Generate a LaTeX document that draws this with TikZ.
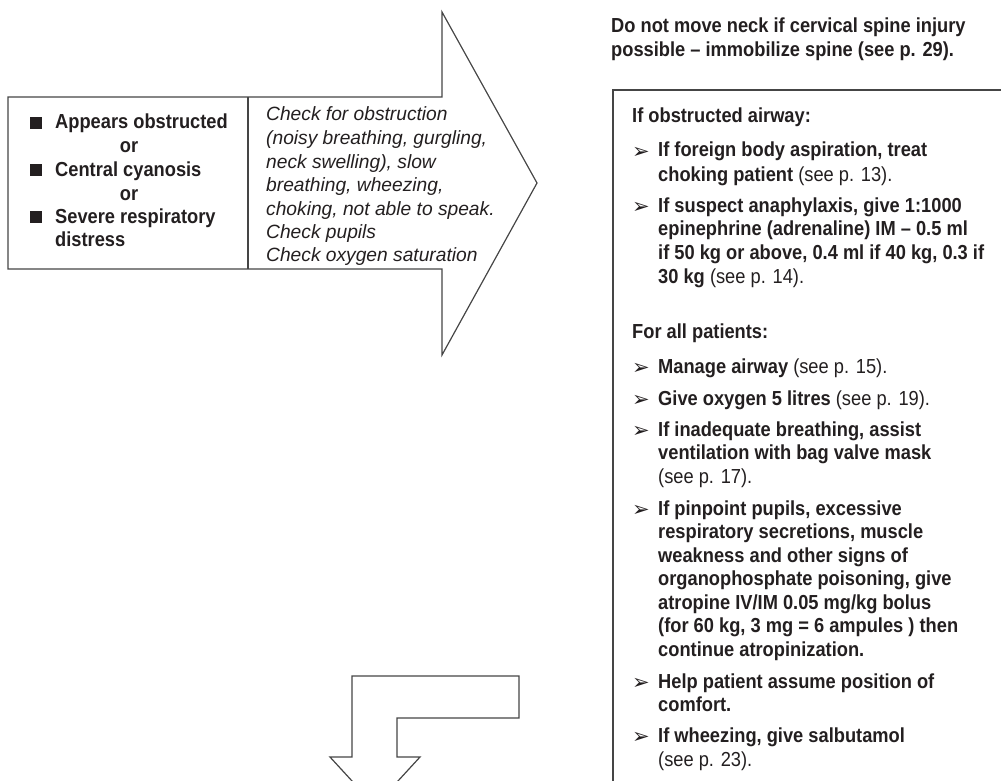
\documentclass[tikz,border=0pt]{standalone}
\usepackage{fontspec}
\setmainfont{Liberation Sans}
\newfontfamily\cond{Liberation Sans}[FakeStretch=0.9, Ligatures=TeX]
\newfontfamily\djv{DejaVu Sans}
\definecolor{ink}{HTML}{231F20}
\definecolor{edge}{HTML}{454545}
\tikzset{
  outline/.style={draw=edge, line width=1.2pt, line join=miter},
  bt/.style={anchor=base west, inner sep=0pt, text=ink, font=\cond\fontsize{20.3}{22}\selectfont\bfseries},
  it/.style={anchor=base west, inner sep=0pt, text=ink, font=\fontsize{19.2}{22}\selectfont\itshape},
  orlbl/.style={anchor=base, inner sep=0pt, text=ink, font=\cond\fontsize{20.3}{22}\selectfont\bfseries},
  sq/.style={fill=ink, draw=none, minimum width=12.5pt, minimum height=12pt, inner sep=0pt, anchor=south west},
  arr/.style={anchor=base west, inner sep=0pt, text=ink, font=\djv\fontsize{21}{22}\selectfont},
}
\newcommand{\rg}[1]{{\mdseries #1}}
\begin{document}
\begin{tikzpicture}[x=1pt, y=-1pt]
\useasboundingbox (0,0) rectangle (1001,781);
\clip (0,0) rectangle (1001,781);

% big right arrow with left box
\draw[outline] (8,97) -- (442,97) -- (442,12) -- (537,183) -- (442,355) -- (442,269) -- (8,269) -- cycle;
\draw[outline] (248,97) -- (248,269);

% left box text
\node[sq] (s1) at (29.5,129) {};
\node[bt] (a1) at (55,129) {Appears obstructed};
\node[orlbl] (o1) at (129,153) {or};
\node[sq] (s2) at (29.5,176) {};
\node[bt] (a2) at (55,176) {Central cyanosis};
\node[orlbl] (o2) at (129,200) {or};
\node[sq] (s3) at (29.5,223) {};
\node[bt] (a3) at (55,223) {Severe respiratory};
\node[bt] (a4) at (55,246) {distress};

% italic text in arrow
\node[it] (c1) at (266,121) {Check for obstruction};
\node[it] (c2) at (266,144.5) {(noisy breathing, gurgling,};
\node[it] (c3) at (266,168) {neck swelling), slow};
\node[it] (c4) at (266,191.5) {breathing, wheezing,};
\node[it] (c5) at (266,215) {choking, not able to speak.};
\node[it] (c6) at (266,238) {Check pupils};
\node[it] (c7) at (266,261.5) {Check oxygen saturation};

% heading above right box
\node[bt] (h1) at (611,33) {Do not move neck if cervical spine injury};
\node[bt] (h2) at (611,57) {possible – immobilize spine (see p. 29).};

% right box
\draw[outline] (613,90) rectangle (1030,820);
\node[bt] (r0) at (632,123) {If obstructed airway:};
\node[arr] (b1) at (632,158) {➢};
\node[bt] (r1) at (658,157) {If foreign body aspiration, treat};
\node[bt] (r2) at (658,181) {choking patient \rg{(see p. 13).}};
\node[arr] (b2) at (632,213) {➢};
\node[bt] (r3) at (658,212) {If suspect anaphylaxis, give 1:1000};
\node[bt] (r4) at (658,235.5) {epinephrine (adrenaline) IM – 0.5 ml};
\node[bt] (r5) at (658,259) {if 50 kg or above, 0.4 ml if 40 kg, 0.3 if};
\node[bt] (r6) at (658,283) {30 kg \rg{(see p. 14).}};

\node[bt] (f0) at (632,338) {For all patients:};
\node[arr] (b3) at (632,374) {➢};
\node[bt] (f1) at (658,373) {Manage airway \rg{(see p. 15).}};
\node[arr] (b4) at (632,406) {➢};
\node[bt] (f2) at (658,405) {Give oxygen 5 litres \rg{(see p. 19).}};
\node[arr] (b5) at (632,437) {➢};
\node[bt] (f3) at (658,436) {If inadequate breathing, assist};
\node[bt] (f4) at (658,459.5) {ventilation with bag valve mask};
\node[bt] (f5) at (658,483) {\rg{(see p. 17).}};
\node[arr] (b6) at (632,516) {➢};
\node[bt] (f6) at (658,515) {If pinpoint pupils, excessive};
\node[bt] (f7) at (658,538.5) {respiratory secretions, muscle};
\node[bt] (f8) at (658,562) {weakness and other signs of};
\node[bt] (f9) at (658,585.5) {organophosphate poisoning, give};
\node[bt] (f10) at (658,609) {atropine IV/IM 0.05 mg/kg bolus};
\node[bt] (f11) at (658,632.5) {(for 60 kg, 3 mg = 6 ampules ) then};
\node[bt] (f12) at (658,656) {continue atropinization.};
\node[arr] (b7) at (632,689) {➢};
\node[bt] (f13) at (658,688) {Help patient assume position of};
\node[bt] (f14) at (658,711.5) {comfort.};
\node[arr] (b8) at (632,743) {➢};
\node[bt] (f15) at (658,742) {If wheezing, give salbutamol};
\node[bt] (f16) at (658,766) {\rg{(see p. 23).}};

% bottom bent arrow
\draw[outline] (352,757) -- (352,676) -- (519,676) -- (519,718) -- (397,718) -- (397,757) -- (420,757) -- (375,806) -- (330,757) -- cycle;
\end{tikzpicture}
\end{document}
